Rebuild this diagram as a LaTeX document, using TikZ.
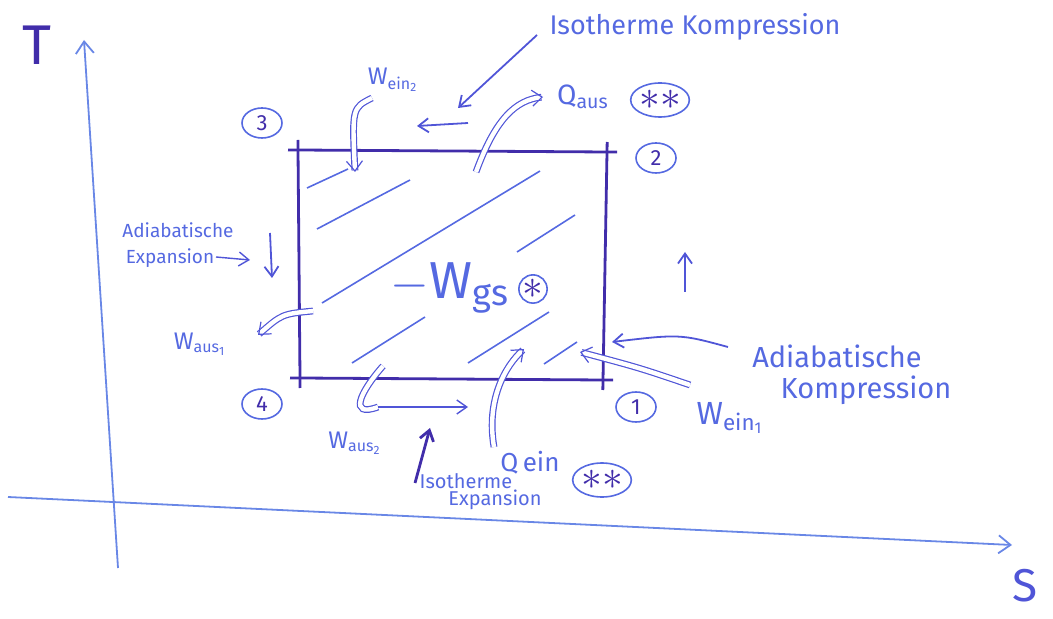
\documentclass[tikz,border=0pt]{standalone}
\usepackage{fontspec}
\setmainfont{Fira Sans}
\usetikzlibrary{arrows.meta,shapes.geometric}
\definecolor{pen}{RGB}{80,85,215}
\definecolor{penDark}{RGB}{65,45,170}
\definecolor{ink}{RGB}{85,105,225}
\definecolor{axiscol}{RGB}{105,135,230}
\newcommand{\fsz}[1]{\fontsize{#1}{#1}\selectfont}
\newcommand{\Wsb}[3]{#1\textsubscript{#2\textsubscript{#3}}}
\begin{document}
\begin{tikzpicture}[x=0.5pt,y=-0.5pt,
 lbl/.style={text=ink, inner sep=0pt, align=center},
 edgeline/.style={draw=penDark, line width=1.4pt, shorten <=-5pt, shorten >=-5pt},
 hatch/.style={draw=ink, line width=0.8pt},
 arr/.style={draw=pen, line width=0.9pt, -{Straight Barb[length=5pt,width=7pt]}},
 dblline/.style={draw=pen, line width=0.6pt, double=white, double distance=2.2pt},
 dblarr/.style={dblline, -{Straight Barb[length=5pt,width=8pt]}},
 circnum/.style={draw=ink, ellipse, line width=0.8pt, text=penDark, inner sep=0pt, minimum width=20pt, minimum height=15pt, font=\fsz{11}},
 circstar/.style={draw=ink, ellipse, line width=0.8pt, text=penDark, inner sep=0pt, minimum width=25pt, minimum height=17pt, font=\fsz{20}},
 axisarr/.style={draw=axiscol, line width=0.9pt, -{Straight Barb[length=6pt,width=9pt]}},
]
\path[use as bounding box] (0,0) rectangle (1053,619);

% axes
\coordinate (tAxS) at (118,568);
\coordinate (tAxE) at (84,40);
\coordinate (sAxS) at (8,497);
\coordinate (sAxE) at (1012,545);
\draw[axisarr] (tAxS) -- (tAxE);
\draw[axisarr] (sAxS) -- (sAxE);
\node[lbl, text=penDark, font=\fsz{28}] (tLab) at (37,45) {T};
\node[lbl, text=pen, font=\fsz{23}] (sLab) at (1025,586) {S};

% cycle corners
\coordinate (p1) at (603,380);
\coordinate (p2) at (607,152);
\coordinate (p3) at (298,150);
\coordinate (p4) at (300,378);
\draw[edgeline] (p3) -- (p2);
\draw[edgeline] (p2) -- (p1);
\draw[edgeline] (p1) -- (p4);
\draw[edgeline] (p4) -- (p3);

% hatching
\draw[hatch] (307,188) -- (348,169);
\draw[hatch] (317,229) -- (410,180);
\draw[hatch] (322,303) -- (540,171);
\draw[hatch] (517,252) -- (575,215);
\draw[hatch] (352,363) -- (425,317);
\draw[hatch] (468,363) -- (549,312);
\draw[hatch] (544,364) -- (577,342);

% corner numbers
\node[circnum] (n3) at (262,123) {3};
\node[circnum] (n2) at (656,158) {2};
\node[circnum] (n4) at (262,404) {4};
\node[circnum] (n1) at (636,407) {1};

% net work
\node[lbl, font=\fsz{26}] (wges) at (450,288) {$-$W\textsubscript{gs}};
\node[draw=ink, circle, line width=0.8pt, inner sep=0pt, minimum size=12pt, text=penDark, font=\fsz{20}] (st1) at (533,289) {$\ast$};

% isotherme kompression
\node[lbl, font=\fsz{13.5}] (tIK) at (695,27) {Isotherme Kompression};
\coordinate (aIKs) at (537,35);
\coordinate (aIKe) at (458,108);
\draw[arr] (aIKs) -- (aIKe);
\coordinate (aTs) at (468,123);
\coordinate (aTe) at (417,126);
\draw[arr] (aTs) -- (aTe);

% W ein 2
\node[lbl, font=\fsz{12}] (we2) at (393,80) {\Wsb{W}{ein}{2}};
\coordinate (we2s) at (372,98);
\coordinate (we2e) at (355,172);
\draw[dblarr] (we2s) .. controls (352,108) .. (we2e);

% Q aus
\node[lbl, font=\fsz{14}] (qaus) at (583,97) {Q\textsubscript{aus}};
\node[circstar] (st2) at (660,100) {$\ast\ast$};
\coordinate (qas) at (476,172);
\coordinate (qae) at (543,97);
\draw[dblarr] (qas) .. controls (495,120) and (515,100) .. (qae);

% adiabatische expansion
\node[lbl, font=\fsz{9.5}] (tAE1) at (178,230) {Adiabatische};
\node[lbl, font=\fsz{9.5}] (tAE2) at (170,258) {Expansion};
\coordinate (aAEs) at (216,257);
\coordinate (aAEe) at (250,260);
\draw[arr, line width=0.7pt] (aAEs) -- (aAEe);
\coordinate (dAs) at (270,233);
\coordinate (dAe) at (272,278);
\draw[arr] (dAs) -- (dAe);

% W aus 1
\node[lbl, font=\fsz{12}] (wa1) at (200,344) {\Wsb{W}{aus}{1}};
\coordinate (wa1s) at (313,311);
\coordinate (wa1e) at (258,335);
\draw[dblarr] (wa1s) .. controls (282,314) .. (wa1e);

% up arrow right
\coordinate (uAs) at (685,292);
\coordinate (uAe) at (685,252);
\draw[arr] (uAs) -- (uAe);

% adiabatische kompression
\node[lbl, font=\fsz{14.5}] (tAK1) at (837,356) {Adiabatische};
\node[lbl, font=\fsz{14.5}] (tAK2) at (866,390) {Kompression};
\coordinate (aAKs) at (728,347);
\coordinate (aAKe) at (612,342);
\draw[arr] (aAKs) .. controls (680,334) .. (aAKe);

% W ein 1
\node[lbl, font=\fsz{16}] (we1) at (730,418) {\Wsb{W}{ein}{1}};
\coordinate (we1s) at (690,385);
\coordinate (we1e) at (580,352);
\draw[dblarr] (we1s) .. controls (640,368) .. (we1e);

% W aus 2
\node[lbl, font=\fsz{12}] (wa2) at (355,443) {\Wsb{W}{aus}{2}};
\coordinate (wa2s) at (383,366);
\coordinate (wa2m) at (378,407);
\coordinate (wa2e) at (468,407);
\draw[dblline] (wa2s) .. controls (360,392) and (348,418) .. (wa2m);
\draw[arr, line width=0.7pt] (wa2m) -- (wa2e);

% Q ein
\node[lbl, font=\fsz{13}] (qein) at (530,463) {Q\,ein};
\node[circstar] (st3) at (602,480) {$\ast\ast$};
\coordinate (qes) at (494,447);
\coordinate (qee) at (524,349);
\draw[dblarr] (qes) .. controls (486,400) and (505,366) .. (qee);

% isotherme expansion
\node[lbl, font=\fsz{10}] (tIE1) at (466,481) {Isotherme};
\node[lbl, font=\fsz{10}] (tIE2) at (495,500) {Expansion};
\coordinate (aIEs) at (415,483);
\coordinate (aIEe) at (430,428);
\draw[arr, line width=1.4pt, draw=penDark] (aIEs) -- (aIEe);
\end{tikzpicture}
\end{document}
